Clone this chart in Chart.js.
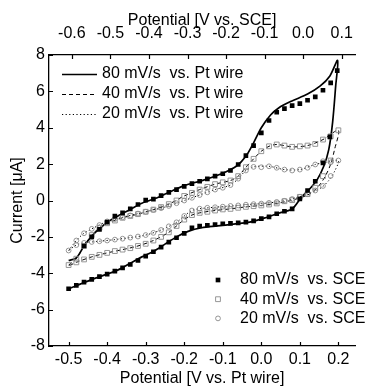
<!DOCTYPE html>
<html><head><meta charset="utf-8">
<script src="https://cdn.jsdelivr.net/npm/chart.js@4"></script>
<style>html,body{margin:0;padding:0;background:#fff;overflow:hidden}#wrap{width:366px;height:386px;position:relative}</style>
</head><body><div id="wrap"><canvas id="c" width="366" height="386"></canvas></div>
<script>
// ---- tick labels ----
const xTicksPt = [-0.5, -0.4, -0.3, -0.2, -0.1, 0.0, 0.1, 0.2];
const xTicksSCE = [-0.6, -0.5, -0.4, -0.3, -0.2, -0.1, 0.0, 0.1];
const yTicks = [-8, -6, -4, -2, 0, 2, 4, 6, 8];

// ---- series labels ----
const lineLabels = ['80 mV/s  vs. Pt wire', '40 mV/s  vs. Pt wire', '20 mV/s  vs. Pt wire'];
const markerLabels = ['80 mV/s  vs. SCE', '40 mV/s  vs. SCE', '20 mV/s  vs. SCE'];

// ---- lines (vs. Pt wire): [potential V, current uA] ----
const pt80 = [[-0.50,-3.3],[-0.48,-3.15],[-0.46,-2.5],[-0.44,-1.96],[-0.42,-1.56],[-0.40,-1.19],[-0.37,-0.82],[-0.34,-0.49],[-0.31,-0.15],[-0.27,0.15],[-0.24,0.45],[-0.20,0.82],[-0.15,1.12],[-0.10,1.5],[-0.065,1.88],[-0.04,2.43],[-0.02,3.17],[0.0,4.0],[0.024,4.7],[0.045,5.09],[0.078,5.46],[0.12,5.85],[0.153,6.3],[0.178,6.85],[0.198,7.7],
  [0.193,6.3],[0.185,4.3],[0.175,2.8],[0.162,1.88],[0.145,1.15],[0.124,0.6],[0.103,0.15],[0.087,-0.31],[0.078,-0.49],[0.045,-0.7],[0.011,-0.95],[-0.03,-1.19],[-0.072,-1.3],[-0.114,-1.4],[-0.155,-1.5],[-0.19,-1.7],[-0.22,-2.0],[-0.25,-2.4],[-0.28,-2.8],[-0.31,-3.1],[-0.34,-3.45],[-0.37,-3.8],[-0.40,-4.05],[-0.44,-4.35],[-0.47,-4.6],[-0.50,-4.85]];
const pt40 = [[-0.50,-3.55],[-0.48,-3.2],[-0.46,-2.5],[-0.44,-1.9],[-0.42,-1.5],[-0.40,-1.25],[-0.36,-0.95],[-0.32,-0.75],[-0.28,-0.5],[-0.24,-0.2],[-0.20,0.25],[-0.16,0.6],[-0.12,0.9],[-0.08,1.1],[-0.06,1.34],[-0.04,1.83],[-0.02,2.29],[0.0,2.71],[0.02,2.98],[0.04,3.08],[0.08,2.95],[0.12,3.02],[0.16,3.35],[0.2,3.86],
  [0.19,2.8],[0.18,2.0],[0.165,1.3],[0.145,0.7],[0.12,0.3],[0.08,0.02],[0.04,-0.16],[0.0,-0.27],[-0.04,-0.35],[-0.08,-0.46],[-0.12,-0.55],[-0.16,-0.68],[-0.18,-0.8],[-0.20,-1.05],[-0.22,-1.4],[-0.24,-1.75],[-0.28,-2.2],[-0.32,-2.5],[-0.36,-2.7],[-0.40,-2.88],[-0.44,-3.1],[-0.48,-3.4],[-0.50,-3.6]];
const pt20 = [[-0.50,-2.75],[-0.48,-2.2],[-0.46,-1.8],[-0.44,-1.56],[-0.40,-1.15],[-0.36,-0.92],[-0.32,-0.72],[-0.28,-0.52],[-0.24,-0.3],[-0.20,0.0],[-0.16,0.3],[-0.12,0.6],[-0.08,0.85],[-0.06,1.2],[-0.04,1.65],[-0.02,1.85],[0.02,1.88],[0.06,1.7],[0.10,1.7],[0.14,1.98],[0.17,2.1],[0.20,2.2],
  [0.19,1.6],[0.175,1.1],[0.155,0.7],[0.12,0.35],[0.08,0.08],[0.04,-0.08],[0.0,-0.17],[-0.04,-0.23],[-0.08,-0.3],[-0.12,-0.37],[-0.16,-0.45],[-0.18,-0.55],[-0.20,-0.85],[-0.22,-1.2],[-0.26,-1.62],[-0.30,-1.9],[-0.34,-2.04],[-0.38,-2.15],[-0.42,-2.24],[-0.46,-2.33],[-0.48,-2.45],[-0.50,-2.75]];

// ---- markers (vs. SCE) ----
const sce80 = [[-0.46,-2.5],[-0.44,-2.0],[-0.42,-1.59],[-0.40,-1.19],[-0.38,-0.86],[-0.36,-0.68],[-0.34,-0.46],[-0.32,-0.22],[-0.30,0.02],[-0.28,0.08],[-0.26,0.27],[-0.24,0.45],[-0.22,0.6],[-0.20,0.78],[-0.18,0.93],[-0.16,1.06],[-0.14,1.19],[-0.12,1.34],[-0.10,1.47],[-0.08,1.65],[-0.06,1.98],[-0.04,2.47],[-0.02,3.02],[0.0,3.72],[0.02,4.4],[0.04,4.85],[0.06,5.05],[0.08,5.22],[0.10,5.33],[0.12,5.51],[0.14,5.7],[0.16,6.06],[0.18,6.47],[0.197,7.14],
  [0.178,3.5],[0.16,2.07],[0.14,1.06],[0.12,0.55],[0.10,0.09],[0.08,-0.46],[0.06,-0.59],[0.04,-0.73],[0.02,-0.9],[0.0,-1.0],[-0.02,-1.12],[-0.04,-1.19],[-0.06,-1.23],[-0.08,-1.26],[-0.10,-1.28],[-0.12,-1.32],[-0.14,-1.36],[-0.16,-1.4],[-0.18,-1.5],[-0.20,-1.81],[-0.22,-2.05],[-0.24,-2.29],[-0.26,-2.56],[-0.28,-2.82],[-0.30,-3.06],[-0.32,-3.3],[-0.34,-3.52],[-0.36,-3.7],[-0.38,-3.88],[-0.40,-4.05],[-0.42,-4.19],[-0.44,-4.34],[-0.46,-4.49],[-0.48,-4.67],[-0.50,-4.85]];
const sce40 = [[-0.50,-3.55],[-0.48,-3.2],[-0.46,-2.5],[-0.44,-1.9],[-0.42,-1.5],[-0.40,-1.25],[-0.38,-1.1],[-0.36,-0.95],[-0.34,-0.85],[-0.32,-0.75],[-0.30,-0.62],[-0.28,-0.5],[-0.26,-0.36],[-0.24,-0.2],[-0.22,0.0],[-0.20,0.25],[-0.18,0.42],[-0.16,0.6],[-0.14,0.75],[-0.12,0.9],[-0.10,1.0],[-0.08,1.1],[-0.06,1.34],[-0.04,1.83],[-0.02,2.29],[0.0,2.71],[0.02,2.98],[0.04,3.08],[0.06,3.02],[0.08,2.95],[0.10,2.98],[0.12,3.02],[0.14,3.11],[0.16,3.35],[0.18,3.53],[0.20,3.86],
  [0.18,2.2],[0.16,1.34],[0.14,0.7],[0.12,0.35],[0.10,0.2],[0.08,0.02],[0.06,-0.04],[0.04,-0.16],[0.02,-0.22],[0.0,-0.27],[-0.02,-0.31],[-0.04,-0.35],[-0.06,-0.4],[-0.08,-0.46],[-0.10,-0.49],[-0.12,-0.55],[-0.14,-0.62],[-0.16,-0.68],[-0.18,-0.8],[-0.20,-1.05],[-0.22,-1.4],[-0.24,-1.75],[-0.26,-2.0],[-0.28,-2.2],[-0.30,-2.38],[-0.32,-2.5],[-0.34,-2.62],[-0.36,-2.7],[-0.38,-2.78],[-0.40,-2.88],[-0.42,-2.99],[-0.44,-3.1],[-0.46,-3.24],[-0.48,-3.4]];
const sce20 = [[-0.50,-2.75],[-0.48,-2.2],[-0.46,-1.8],[-0.44,-1.56],[-0.42,-1.35],[-0.40,-1.15],[-0.38,-1.02],[-0.36,-0.92],[-0.34,-0.82],[-0.32,-0.72],[-0.30,-0.62],[-0.28,-0.52],[-0.26,-0.42],[-0.24,-0.3],[-0.22,-0.15],[-0.20,0.0],[-0.18,0.15],[-0.16,0.3],[-0.14,0.45],[-0.12,0.6],[-0.10,0.7],[-0.08,0.85],[-0.06,1.2],[-0.04,1.65],[-0.02,1.85],[0.0,1.83],[0.02,1.88],[0.04,1.8],[0.06,1.7],[0.08,1.65],[0.10,1.7],[0.12,1.8],[0.14,1.98],[0.16,2.16],[0.18,2.1],[0.20,2.2],
  [0.18,1.35],[0.16,0.8],[0.14,0.55],[0.12,0.35],[0.10,0.2],[0.08,0.08],[0.06,-0.02],[0.04,-0.08],[0.02,-0.13],[0.0,-0.17],[-0.02,-0.2],[-0.04,-0.23],[-0.06,-0.27],[-0.08,-0.3],[-0.10,-0.34],[-0.12,-0.37],[-0.14,-0.4],[-0.16,-0.45],[-0.18,-0.55],[-0.20,-0.85],[-0.22,-1.2],[-0.24,-1.42],[-0.26,-1.62],[-0.28,-1.78],[-0.30,-1.9],[-0.32,-1.98],[-0.34,-2.04],[-0.36,-2.1],[-0.38,-2.15],[-0.40,-2.2],[-0.42,-2.24],[-0.44,-2.28],[-0.46,-2.33],[-0.48,-2.45]];

const toXY = a => a.map(p => ({x: p[0], y: p[1]}));
const FONT = "'Liberation Sans', Arial, sans-serif";
Chart.defaults.font.family = FONT;
Chart.defaults.color = '#000';

const GREY = '#8a8a8a';
const datasets = [
  {label: markerLabels[0], data: toXY(sce80), showLine: false, pointStyle: 'rect', pointRadius: 3.3, backgroundColor: '#000', borderColor: '#000', borderWidth: 0, legendGroup: 2},
  {label: markerLabels[1], data: toXY(sce40), showLine: false, pointStyle: 'rect', pointRadius: 3.4, backgroundColor: 'rgba(0,0,0,0)', borderColor: GREY, borderWidth: 0.9, legendGroup: 2},
  {label: markerLabels[2], data: toXY(sce20), showLine: false, pointStyle: 'circle', pointRadius: 2.4, backgroundColor: 'rgba(0,0,0,0)', borderColor: GREY, borderWidth: 0.9, legendGroup: 2},
  {label: lineLabels[0], data: toXY(pt80), showLine: true, pointRadius: 0, borderColor: '#000', borderWidth: 1.7, tension: 0.3, legendGroup: 1},
  {label: lineLabels[1], data: toXY(pt40), showLine: true, pointRadius: 0, borderColor: '#000', borderWidth: 1, borderDash: [4, 3], tension: 0.3, legendGroup: 1},
  {label: lineLabels[2], data: toXY(pt20), showLine: true, pointRadius: 0, borderColor: '#000', borderWidth: 1, borderDash: [1.2, 2.4], tension: 0.3, legendGroup: 1}
];

const inTicks = {
  id: 'inTicks',
  afterDatasetsDraw(chart) {
    const ctx = chart.ctx, a = chart.chartArea, s = chart.scales;
    ctx.save();
    ctx.strokeStyle = '#000'; ctx.lineWidth = 1.2; ctx.beginPath();
    xTicksPt.forEach(v => { const p = Math.round(s.x.getPixelForValue(v)) + 0.5; ctx.moveTo(p, a.bottom); ctx.lineTo(p, a.bottom - 4); });
    xTicksSCE.forEach(v => { const p = Math.round(s.x2.getPixelForValue(v)) + 0.5; ctx.moveTo(p, a.top); ctx.lineTo(p, a.top + 4); });
    yTicks.forEach(v => { const p = Math.round(s.y.getPixelForValue(v)) + 0.5; ctx.moveTo(a.left, p); ctx.lineTo(a.left + 4, p); });
    ctx.stroke(); ctx.restore();
  }
};

const customLegend = {
  id: 'customLegend',
  afterDraw(chart, args, opts) {
    const ctx = chart.ctx;
    ctx.save();
    ctx.font = opts.fontSize + 'px ' + FONT;
    ctx.fillStyle = '#000'; ctx.textBaseline = 'middle'; ctx.textAlign = 'left';
    let r1 = 0, r2 = 0;
    chart.data.datasets.forEach(ds => {
      if (ds.legendGroup === 1) {
        const y = opts.g1.y + r1 * opts.g1.dy; r1++;
        ctx.save(); ctx.strokeStyle = ds.borderColor; ctx.lineWidth = ds.borderWidth; ctx.setLineDash(ds.borderDash || []);
        ctx.beginPath(); ctx.moveTo(opts.g1.x0, y + 0.5); ctx.lineTo(opts.g1.x1, y + 0.5); ctx.stroke(); ctx.restore();
        ctx.fillText(ds.label, opts.g1.tx, y);
      } else {
        const y = opts.g2.y + r2 * opts.g2.dy; r2++;
        ctx.save(); ctx.strokeStyle = ds.borderColor; ctx.fillStyle = ds.backgroundColor; ctx.lineWidth = ds.borderWidth;
        Chart.helpers.drawPoint(ctx, {pointStyle: ds.pointStyle, radius: ds.pointRadius, rotation: 0, borderWidth: ds.borderWidth}, opts.g2.mx, y);
        ctx.restore();
        ctx.fillText(ds.label, opts.g2.tx, y);
      }
    });
    ctx.restore();
  }
};

new Chart(document.getElementById('c'), {
  type: 'scatter',
  data: {datasets},
  plugins: [inTicks, customLegend],
  options: {
    responsive: false, animation: false, devicePixelRatio: 1,
    layout: {padding: 0},
    plugins: {
      legend: {display: false}, tooltip: {enabled: false},
      customLegend: {fontSize: 16, g1: {x0: 62, x1: 97, tx: 102, y: 74, dy: 20}, g2: {mx: 218, tx: 240, y: 280, dy: 19.2}}
    },
    scales: {
      x: {
        type: 'linear', position: 'bottom', min: -0.5509, max: 0.2436,
        afterBuildTicks: sc => { sc.ticks = xTicksPt.map(v => ({value: v})); },
        afterFit: sc => { sc.height = 40; },
        ticks: {font: {size: 16, lineHeight: 1}, padding: 6, color: '#000', callback: v => v.toFixed(1)},
        grid: {display: true, drawOnChartArea: false, drawTicks: false},
        border: {display: true, color: '#000', width: 1.3},
        title: {display: true, text: 'Potential [V vs. Pt wire]', font: {size: 16, lineHeight: 1}, padding: {top: 0, bottom: -1}, color: '#000'}
      },
      x2: {
        type: 'linear', position: 'top', min: -0.6594, max: 0.1351,
        afterBuildTicks: sc => { sc.ticks = xTicksSCE.map(v => ({value: v})); },
        afterFit: sc => { sc.height = 55; },
        ticks: {font: {size: 16, lineHeight: 1}, padding: 13, color: '#000', callback: v => v.toFixed(1)},
        grid: {display: true, drawOnChartArea: false, drawTicks: false},
        border: {display: true, color: '#000', width: 1.3},
        title: {display: true, text: 'Potential [V vs. SCE]', font: {size: 16, lineHeight: 1}, padding: {top: 13, bottom: 0}, color: '#000'}
      },
      y: {
        type: 'linear', position: 'left', min: -8, max: 8,
        afterBuildTicks: sc => { sc.ticks = yTicks.map(v => ({value: v})); },
        afterFit: sc => { sc.width = 49; },
        ticks: {font: {size: 16, lineHeight: 1}, padding: 4, color: '#000'},
        grid: {display: true, drawOnChartArea: false, drawTicks: false},
        border: {display: true, color: '#000', width: 1.3},
        title: {display: true, text: 'Current [\u03bcA]', font: {size: 16, lineHeight: 1}, padding: {top: 10, bottom: 0}, color: '#000'}
      }
    }
  }
});
</script></body></html>
